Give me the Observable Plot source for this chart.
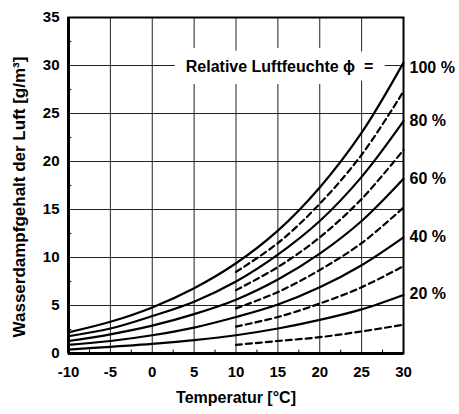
<!DOCTYPE html>
<html>
<head>
<meta charset="utf-8">
<script src="https://cdn.jsdelivr.net/npm/d3@7"></script>
<script src="https://cdn.jsdelivr.net/npm/@observablehq/plot@0.6"></script>
<style>
  html, body { margin: 0; padding: 0; background: #fff; }
  svg { display: block; }
</style>
</head>
<body>
<div id="chart"></div>
<script>
// Temperatures (°C)
const tempsFull = [-10, -5, 0, 5, 10, 15, 20, 25, 30];
const tempsHalf = [10, 15, 20, 25, 30];

// Solid curves (g/m³)
const phi100 = [2.2, 3.3, 4.8, 6.8, 9.4, 12.8, 17.3, 23.0, 30.3];
const phi80  = [1.8, 2.6, 3.9, 5.4, 7.5, 10.3, 13.8, 18.4, 24.2];
const phi60  = [1.3, 2.0, 2.9, 4.1, 5.6, 7.7, 10.4, 13.8, 18.2];
const phi40  = [0.9, 1.3, 1.9, 2.7, 3.8, 5.1, 6.9, 9.2, 12.1];
const phi20  = [0.4, 0.7, 1.0, 1.4, 1.9, 2.6, 3.5, 4.6, 6.1];

// Dashed curves (g/m³), from 10 °C
const phi90 = [8.5, 11.5, 15.6, 20.7, 27.3];
const phi70 = [6.6, 9.0, 12.1, 16.1, 21.2];
const phi50 = [4.7, 6.4, 8.7, 11.5, 15.2];
const phi30 = [2.8, 3.8, 5.2, 6.9, 9.1];
const phi10 = [0.9, 1.3, 1.7, 2.3, 3.0];

// Right-hand labels
const rhLabels = ["100 %", "80 %", "60 %", "40 %", "20 %"];
const rhLabelY = [29.8, 24.2, 18.2, 12.1, 6.2];

const xTicks = [-10, -5, 0, 5, 10, 15, 20, 25, 30];
const yTicks = [0, 5, 10, 15, 20, 25, 30, 35];
const minorX = [-7.5, -2.5, 2.5, 7.5, 12.5, 17.5, 22.5, 27.5];
const minorY = [2.5, 7.5, 12.5, 17.5, 22.5, 27.5, 32.5];

const solidSeries = [
  ["100", phi100], ["80", phi80], ["60", phi60], ["40", phi40], ["20", phi20]
].flatMap(([k, vals]) => vals.map((v, i) => ({ key: k, t: tempsFull[i], v })));

const dashedSeries = [
  ["90", phi90], ["70", phi70], ["50", phi50], ["30", phi30], ["10", phi10]
].flatMap(([k, vals]) => vals.map((v, i) => ({ key: k, t: tempsHalf[i], v })));

const labels = rhLabels.map((l, i) => ({ label: l, y: rhLabelY[i] }));

const font = "'Liberation Sans', Arial, sans-serif";
const fmt = d => (d < 0 ? "-" + Math.abs(d) : String(d));

const chart = Plot.plot({
  width: 459,
  height: 414,
  marginLeft: 68,
  marginRight: 56,
  marginTop: 17,
  marginBottom: 61,
  style: { fontFamily: font, fontSize: "16px", fontWeight: "bold", background: "#fff", color: "#000" },
  x: { domain: [-10, 30] },
  y: { domain: [0, 35] },
  marks: [
    Plot.ruleX(xTicks.slice(1, -1), { stroke: "#222", strokeWidth: 1 }),
    Plot.ruleY(yTicks.slice(1, -1), { stroke: "#222", strokeWidth: 1 }),
    Plot.text(["Relative Luftfeuchte ϕ  ="], {
      x: 26.4, y: 30, textAnchor: "end", dy: 1,
      fill: "#000", stroke: "#fff", strokeWidth: 24, strokeLinejoin: "round",
      fontSize: 16, fontWeight: "bold"
    }),
    Plot.ruleX(minorX, { y1: 0, y2: 0.35, stroke: "#000", strokeWidth: 1 }),
    Plot.ruleY(minorY, { x1: -10, x2: -9.6, stroke: "#000", strokeWidth: 1 }),
    Plot.line(solidSeries, { x: "t", y: "v", z: "key", curve: "catmull-rom", stroke: "#000", strokeWidth: 2.2 }),
    Plot.line(dashedSeries, { x: "t", y: "v", z: "key", curve: "catmull-rom", stroke: "#000", strokeWidth: 2.2, strokeDasharray: "6,4" }),
    Plot.frame({ stroke: "#000", strokeWidth: 2 }),
    Plot.ruleX([-10], { stroke: "#000", strokeWidth: 3 }),
    Plot.ruleY([0], { stroke: "#000", strokeWidth: 3 }),
    Plot.axisX(xTicks, { tickSize: 0, tickPadding: 13, label: null, fontSize: 15, fontWeight: "bold", tickFormat: fmt }),
    Plot.axisY(yTicks, { tickSize: 0, tickPadding: 9, label: null, fontSize: 15, fontWeight: "bold", tickFormat: fmt }),
    Plot.text(labels, { x: 30, y: "y", text: "label", textAnchor: "start", dx: 6, fontSize: 16, fontWeight: "bold" }),
    Plot.text(["Temperatur [°C]"], { frameAnchor: "bottom", textAnchor: "middle", dy: 49, fontSize: 16, fontWeight: "bold" }),
    Plot.text(["Wasserdampfgehalt der Luft [g/m³]"], { frameAnchor: "left", textAnchor: "middle", y: 16.3, dx: -49, rotate: -90, fontSize: 17, fontWeight: "bold" })
  ]
});

document.getElementById("chart").appendChild(chart);
</script>
</body>
</html>
